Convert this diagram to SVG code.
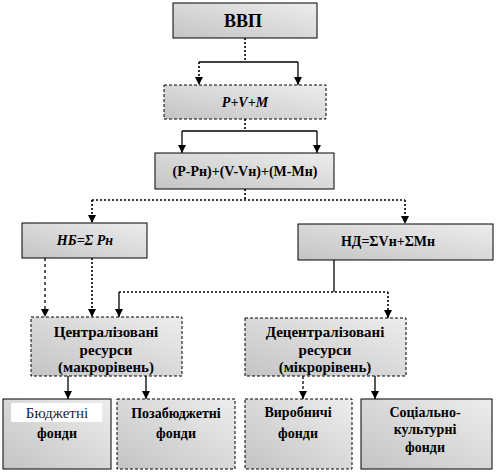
<svg xmlns="http://www.w3.org/2000/svg" width="498" height="473" viewBox="0 0 498 473">
<defs>
<linearGradient id="g" x1="0" y1="1" x2="1" y2="0">
<stop offset="0" stop-color="#c4c4c4"/>
<stop offset="1" stop-color="#ededed"/>
</linearGradient>
<marker id="a" markerUnits="userSpaceOnUse" markerWidth="8" markerHeight="8" refX="8" refY="4" orient="auto">
<path d="M0,0 L8,4 L0,8 z" fill="#000"/>
</marker>
</defs>
<style>
.box{fill:url(#g);stroke:#000;stroke-width:1}
.dash{stroke-dasharray:3 2}
.t{font-family:"Liberation Serif","Times New Roman",serif;font-weight:bold;font-size:14px;fill:#000;text-anchor:middle}
.i{font-style:italic}
.c{fill:none;stroke:#000;stroke-width:1.3}
.d{stroke-dasharray:2 2;stroke-width:1.6}
.ar{marker-end:url(#a)}
</style>
<rect width="498" height="473" fill="#fff"/>
<g id="connectors">
<path class="c d" d="M245,38 V62"/>
<path class="c" d="M199,62 H298"/>
<path class="c d ar" d="M199,62 V85"/>
<path class="c ar" d="M298,62 V85"/>
<path class="c d" d="M245,119 V131"/>
<path class="c" d="M182,131 H317"/>
<path class="c ar" d="M182,131 V153"/>
<path class="c ar" d="M317,131 V153"/>
<path class="c d" d="M245,189 V200"/>
<path class="c d" d="M92,200 H405"/>
<path class="c d ar" d="M92,200 V223"/>
<path class="c d ar" d="M405,200 V224"/>
<path class="c ar" d="M45,258 V317" style="stroke-dasharray:3 3"/>
<path class="c d ar" d="M92,258 V317"/>
<path class="c" d="M334,260 V292"/>
<path class="c d" d="M119,292 H388"/>
<path class="c ar" d="M119,292 V317"/>
<path class="c d ar" d="M388,292 V318"/>
<path class="c ar" d="M68,376 V399"/>
<path class="c ar" d="M146,376 V399"/>
<path class="c ar" d="M303,376 V399" style="stroke-dasharray:3 2"/>
<path class="c ar" d="M375,376 V399"/>
</g>
<g id="vvp">
<rect class="box" x="173" y="3" width="144" height="35"/>
<text class="t" x="243" y="27" style="font-size:18px">ВВП</text>
</g>
<g id="pvm">
<rect class="box dash" x="164" y="85" width="162" height="34"/>
<text class="t i" x="245" y="107">P+V+M</text>
</g>
<g id="diff">
<rect class="box" x="155" y="153" width="179" height="36"/>
<text class="t" x="245" y="176">(Р-Рн)+(V-Vн)+(М-Мн)</text>
</g>
<g id="nb">
<rect class="box" x="22" y="223" width="125" height="35"/>
<text class="t i" x="85" y="245">НБ=Σ Рн</text>
</g>
<g id="nd">
<rect class="box" x="298" y="224" width="195" height="36"/>
<text class="t" x="388" y="246">НД=ΣVн+ΣМн</text>
</g>
<g id="central">
<rect class="box dash" x="31" y="317" width="151" height="59"/>
<text class="t" x="106" y="337" style="font-size:15px">Централізовані</text>
<text class="t" x="106" y="355" style="font-size:15px">ресурси</text>
<text class="t" x="106" y="372" style="font-size:15px">(макрорівень)</text>
</g>
<g id="decentral">
<rect class="box dash" x="245" y="318" width="161" height="58"/>
<text class="t" x="325" y="337" style="font-size:15px">Децентралізовані</text>
<text class="t" x="325" y="355" style="font-size:15px">ресурси</text>
<text class="t" x="325" y="372" style="font-size:15px">(мікрорівень)</text>
</g>
<g id="budget">
<rect class="box" x="3" y="399" width="108" height="70"/>
<rect x="11" y="403" width="91" height="19" fill="#fff"/>
<text class="t" x="57" y="418" style="font-weight:normal;fill:#1a1a3a;font-size:15px">Бюджетні</text>
<text class="t" x="57" y="438">фонди</text>
</g>
<g id="offbudget">
<rect class="box dash" x="117" y="399" width="118" height="70"/>
<text class="t" x="176" y="418">Позабюджетні</text>
<text class="t" x="176" y="438">фонди</text>
</g>
<g id="production">
<rect class="box dash" x="245" y="399" width="107" height="70"/>
<text class="t" x="298" y="417">Виробничі</text>
<text class="t" x="298" y="438">фонди</text>
</g>
<g id="social">
<rect class="box" x="361" y="399" width="131" height="70"/>
<text class="t" x="425" y="417">Соціально-</text>
<text class="t" x="425" y="434">культурні</text>
<text class="t" x="425" y="452">фонди</text>
</g>
</svg>
